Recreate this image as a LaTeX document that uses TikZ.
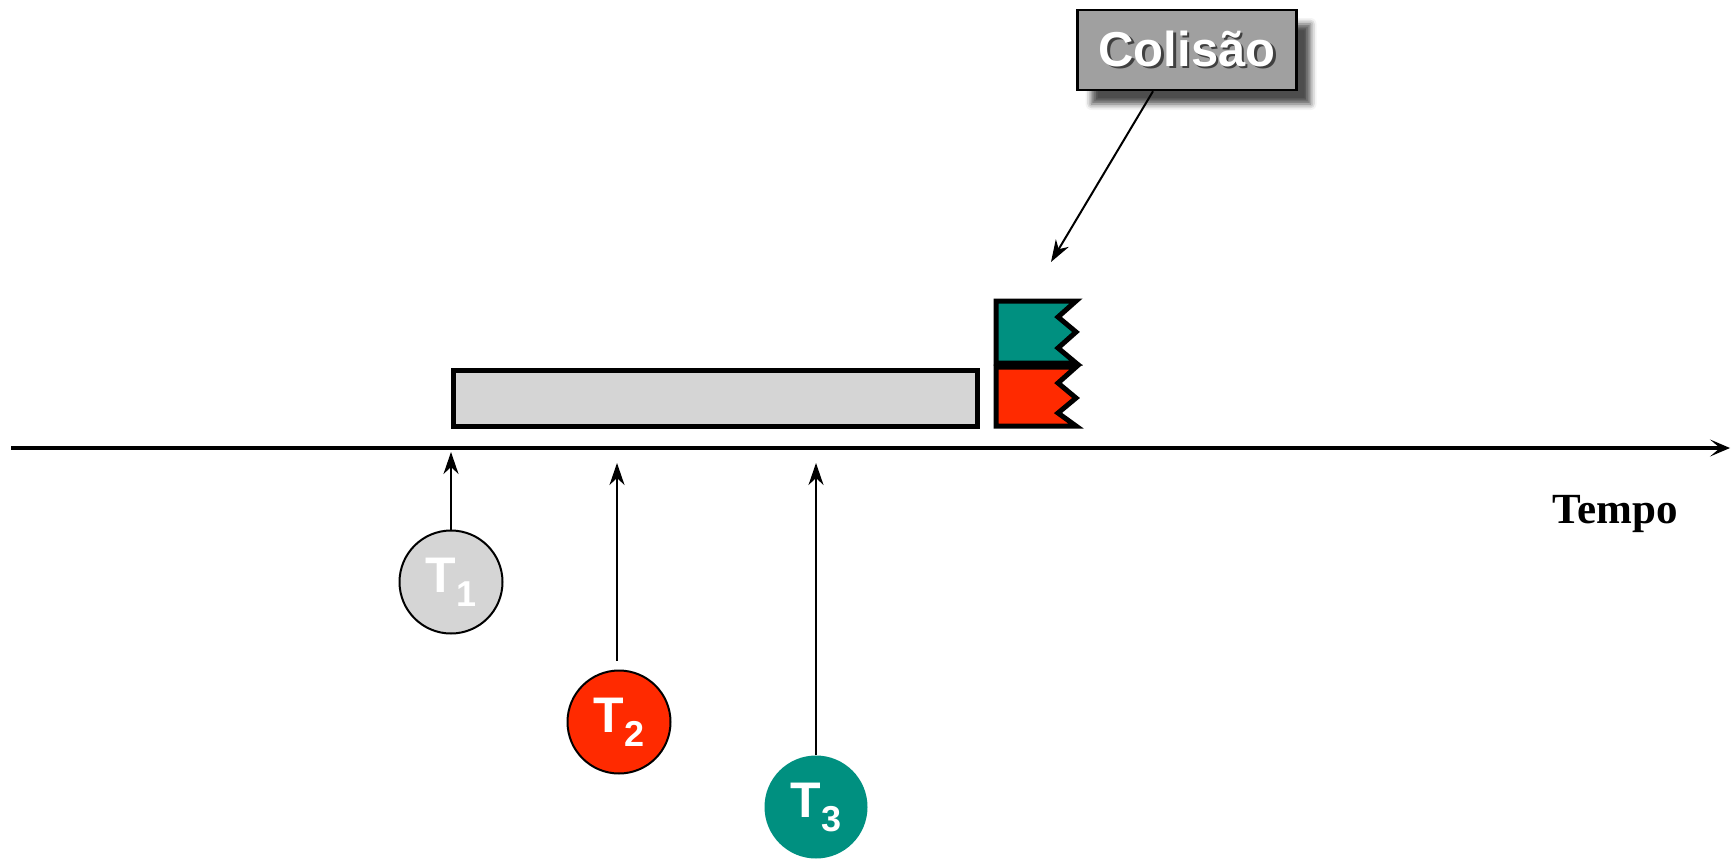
\documentclass[tikz,border=0pt]{standalone}
\usepackage{fontspec}
\setmainfont{Liberation Serif}
\setsansfont{Liberation Sans}
\usetikzlibrary{arrows.meta, positioning, shadows.blur}

\definecolor{barGray}{HTML}{D5D5D5}
\definecolor{boxGray}{HTML}{A0A0A0}
\definecolor{tRed}{HTML}{FF2A00}
\definecolor{tTeal}{HTML}{009080}

\newcommand{\shadowtext}[1]{\makebox[0pt][l]{\hspace{2.5pt}\raisebox{-2.5pt}{\color{black!75}#1}}#1}
\newcommand{\tname}[1]{T\raisebox{-14pt}{\fontsize{36}{36}\selectfont #1}}

\tikzset{
    station/.style={circle, minimum size=103pt, inner sep=0pt, text=white,
        font=\fontsize{50}{50}\selectfont\sffamily\bfseries},
    sendarrow/.style={line width=2pt, -{Stealth[length=22pt, width=15pt, inset=7pt]}},
    block/.style={line width=5pt, line join=miter}
}

\begin{document}
\begin{tikzpicture}[x=1pt, y=-1pt]
    \useasboundingbox (0,0) rectangle (1731,859);

    % Time axis
    \coordinate (tstart) at (11,448);
    \coordinate (tend) at (1730,448);
    \draw[line width=4pt, -{Stealth[length=20pt, width=17pt, inset=10pt]}] (tstart) -- (tend);
    \node[font=\fontsize{43}{43}\selectfont\bfseries] (tempo) at (1615,514) {Tempo};

    % Frames on the medium
    \draw[block, fill=barGray] (453,370) rectangle (977,426);
    \draw[block, fill=tTeal] (996,301) -- (1076,301) -- (1058,317) -- (1076,332) -- (1058,348) -- (1076,363) -- (996,363) -- cycle;
    \draw[block, fill=tRed] (996,367) -- (1076,367) -- (1058,383) -- (1076,398) -- (1058,413) -- (1076,426) -- (996,426) -- cycle;

    % Stations
    \node[station, draw, line width=2pt, fill=barGray] (t1) at (451,582) {\tname{1}};
    \node[station, draw, line width=2pt, fill=tRed] (t2) at (619,722) {\tname{2}};
    \node[station, fill=tTeal] (t3) at (816,807) {\tname{3}};

    \coordinate (hit1) at (451,452);
    \coordinate (hit2) at (617,463);
    \coordinate (hit3) at (816,463);
    \draw[sendarrow] (t1.north) -- (hit1);
    \draw[sendarrow, shorten <=9pt] (t2.north -| hit2) -- (hit2);
    \draw[sendarrow] (t3.north) -- (hit3);

    % Collision label
    \node[draw, line width=2.5pt, fill=boxGray, minimum width=219pt, minimum height=80pt, inner sep=0pt,
        blur shadow={shadow xshift=14pt, shadow yshift=-14pt, shadow blur radius=6pt, shadow opacity=70},
        text=white, font=\fontsize{49}{49}\selectfont\sffamily\bfseries] (colisao) at (1187,50) {\shadowtext{Colisão}};
    \coordinate (hitc) at (1051,262);
    \draw[sendarrow] ([xshift=-34pt]colisao.south) -- (hitc);

\end{tikzpicture}
\end{document}
